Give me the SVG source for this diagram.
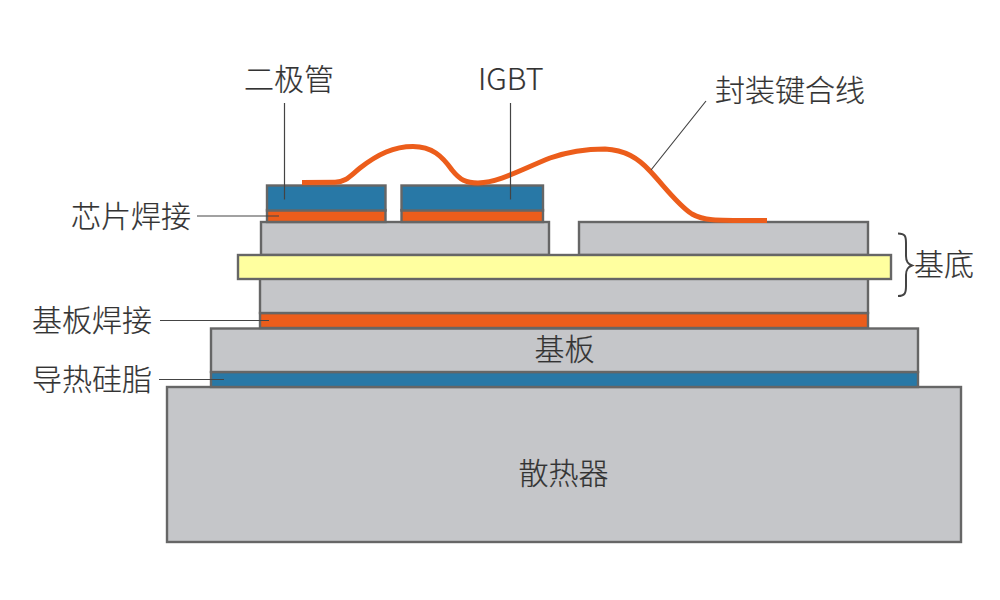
<svg xmlns="http://www.w3.org/2000/svg" width="1000" height="600" viewBox="0 0 1000 600">
<style>
text{font-family:"Noto Sans CJK SC","Noto Sans",sans-serif;font-size:30px;font-weight:300;fill:#333;stroke:#333;stroke-width:.2}
.g{fill:#c5c6c9}.b{fill:#2878a6}.o{fill:#ec5d1b}.y{fill:#ffff9f}
rect{stroke:#666;stroke-width:2.400}
.l{fill:none;stroke:#444;stroke-width:1.200}
</style>
<rect width="1000" height="600" style="fill:#fff;stroke:none"/>
<g id="heatsink"><rect class="g" x="167" y="387" width="794" height="155"/><text x="563.500" y="484" text-anchor="middle">散热器</text></g>
<g id="grease"><rect class="b" x="211" y="372" width="707" height="15"/></g>
<g id="baseplate"><rect class="g" x="211" y="328.500" width="707" height="43.500"/><text x="564.500" y="360" text-anchor="middle">基板</text></g>
<g id="base-solder"><rect class="o" x="260" y="313" width="608" height="15"/></g>
<g id="substrate-lower"><rect class="g" x="260" y="278" width="608" height="35"/></g>
<g id="substrate-upper-left"><rect class="g" x="261" y="222" width="288" height="33"/></g>
<g id="substrate-upper-right"><rect class="g" x="579" y="222" width="289" height="33"/></g>
<g id="substrate-ceramic"><rect class="y" x="238" y="255" width="653" height="24"/></g>
<g id="diode-solder"><rect class="o" x="267" y="210" width="118.500" height="12"/></g>
<g id="diode"><rect class="b" x="267" y="185.500" width="118.500" height="25"/></g>
<g id="igbt-solder"><rect class="o" x="401.500" y="210" width="141.500" height="12"/></g>
<g id="igbt"><rect class="b" x="401.500" y="185.500" width="141.500" height="25"/></g>
<g id="connectors">
<path d="M302 182.500L335 182.200C346 182 350 176 360 168C378 154 394 146.500 413 146.500C432 146.500 442 156 452 170C460 180 466 183 478 183C500 182 520 170 550 158C570 151 585 149 605 149C625 150 638 158 650 171C665 187 678 205 692 214C704 221 715 220.500 767 220.500" fill="none" stroke="#ec5d1b" stroke-width="5"/>
<path class="l" d="M284.500 103V199.500M510.500 103V199.500M706 101L651 170M197 216H279M160 320.500H269M159 379.500H224"/>
<path d="M898 233.500C905 233.500 906 236 906 243V256C906 262 908 264 912 265.500C908 267 906 269 906 275V286C906 293 905 296 898 296" fill="none" stroke="#444" stroke-width="2"/>
</g>
<g id="labels">
<text x="244" y="90">二极管</text>
<text x="478" y="90" style="font-size:30.500px">IGBT</text>
<text x="715" y="101">封装键合线</text>
<text x="71" y="227">芯片焊接</text>
<text x="32" y="331">基板焊接</text>
<text x="32" y="390">导热硅脂</text>
<text x="914" y="275">基底</text>
</g>
</svg>
